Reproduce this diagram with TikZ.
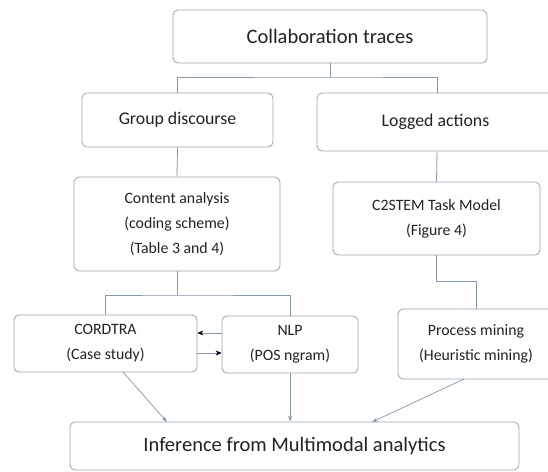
\documentclass[tikz,border=0pt]{standalone}
\usepackage{fontspec}
\setmainfont{Carlito}
\usetikzlibrary{arrows.meta}
\definecolor{boxline}{HTML}{9AA3AE}
\definecolor{conn}{HTML}{8797AC}
\definecolor{txt}{HTML}{222222}
\begin{document}
\begin{tikzpicture}[x=1pt,y=-1pt,
  box/.style={draw=boxline, line width=0.8pt, rounded corners=5pt, fill=white, text=txt, inner sep=0pt, align=center},
  small/.style={font=\fontsize{15.8}{25}\selectfont},
  mid/.style={font=\fontsize{17.8}{22}\selectfont},
  large/.style={font=\fontsize{20.5}{24}\selectfont},
  link/.style={draw=conn, line width=0.8pt},
  arr/.style={draw=conn, line width=0.7pt, -{Stealth[length=6pt,width=4pt]}},
  darr/.style={draw=conn, line width=0.7pt, -{Stealth[length=6pt,width=5pt,color=black]}}]
\useasboundingbox (0,0) rectangle (548,471);
\fill[white] (0,0) rectangle (548,471);
\node[box, large, minimum width=314pt, minimum height=53pt] (collab) at (330,36.5) {Collaboration traces};
\node[box, mid, minimum width=191pt, minimum height=54pt] (gd) at (177.5,120) {Group discourse};
\node[box, mid, minimum width=240pt, minimum height=58pt] (la) at (437,122) {\hspace*{-3pt}Logged actions};
\node[box, small, minimum width=206pt, minimum height=94pt] (ca) at (177,224) {Content analysis\\(coding scheme)\\(Table 3 and 4)};
\node[box, small, minimum width=207pt, minimum height=73pt] (c2) at (436.5,218.5) {C2STEM Task Model\\(Figure 4)};
\node[box, small, minimum width=183pt, minimum height=57pt] (cord) at (105.5,343.5) {CORDTRA\\(Case study)};
\node[box, small, minimum width=136pt, minimum height=57pt] (nlp) at (290,344.5) {NLP\\(POS ngram)};
\node[box, small, minimum width=156pt, minimum height=70pt] (pm) at (476,344) {Process mining\\(Heuristic mining)};
\node[box, large, minimum width=449pt, minimum height=48pt] (inf) at (294.5,446) {Inference from Multimodal analytics};
% top tree
\coordinate (j1) at (330,77);
\draw[link] (collab.south) -- (j1);
\draw[link] (gd.north) |- (j1) -| (la.north);
\draw[link] (gd.south) -- (ca.north);
\draw[link] (la.south) -- (c2.north);
% content analysis split
\coordinate (j2) at (177,295);
\draw[link] (ca.south) -- (j2);
\draw[link] (cord.north) |- (j2) -| (nlp.north);
% C2STEM to process mining
\coordinate (j3) at (436.5,281);
\draw[link] (c2.south) -- (j3) -| (pm.north);
% CORDTRA <-> NLP
\draw[darr] (nlp.west |- 0,333) -- (cord.east |- 0,333);
\draw[darr] (cord.east |- 0,353) -- (nlp.west |- 0,353);
% to inference
\coordinate (c1) at (123,372);
\coordinate (i1) at (167,422);
\draw[arr] (c1) -- (i1);
\draw[arr] (nlp.south) -- (nlp.south |- inf.north);
\coordinate (p1) at (464,379);
\coordinate (i3) at (372,422);
\draw[arr] (p1) -- (i3);
\end{tikzpicture}
\end{document}
